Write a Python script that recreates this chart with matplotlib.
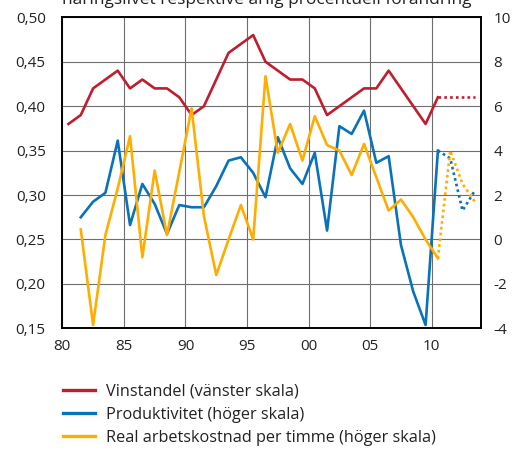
import matplotlib
matplotlib.use("Agg")
import matplotlib.pyplot as plt
import numpy as np

plt.rcParams['font.family'] = ['Open Sans', 'DejaVu Sans']
plt.rcParams['axes.unicode_minus'] = False

# years of the observations (plotted mid-year)
years = list(range(1980, 2011))
fc_years = [2010, 2011, 2012, 2013]

# Vinstandel (left axis)
vinstandel = [0.38, 0.39, 0.42, 0.43, 0.44, 0.42, 0.43, 0.42, 0.42, 0.41,
              0.39, 0.40, 0.43, 0.46, 0.47, 0.48, 0.45, 0.44, 0.43, 0.43,
              0.42, 0.39, 0.40, 0.41, 0.42, 0.42, 0.44, 0.42, 0.40, 0.38,
              0.41]
vinstandel_fc = [0.41, 0.41, 0.41, 0.41]

# Produktivitet (right axis), starts 1981
prod_years = list(range(1981, 2011))
produktivitet = [1.0, 1.7, 2.1, 4.45, 0.65, 2.5, 1.6, 0.25, 1.55, 1.45,
                 1.45, 2.4, 3.55, 3.7, 3.0, 1.9, 4.6, 3.2, 2.5, 3.9,
                 0.4, 5.1, 4.75, 5.8, 3.45, 3.75, -0.25, -2.35, -3.85, 4.0]
produktivitet_fc = [4.0, 3.65, 1.3, 2.2]

# Real arbetskostnad per timme (right axis), starts 1981
arbkost = [0.45, -3.85, 0.2, 2.3, 4.65, -0.8, 3.1, 0.2, 3.05, 5.9,
           1.05, -1.6, 0.0, 1.55, 0.0, 7.35, 3.9, 5.2, 3.55, 5.55,
           4.25, 4.0, 2.9, 4.3, 2.8, 1.3, 1.8, 1.0, 0.0, -0.85]
arbkost_fc = [-0.85, 4.0, 2.5, 1.7]

red = '#BE1E2D'
blue = '#0A72BA'
orange = '#FFAD00'

fig = plt.figure(figsize=(5.28, 4.51), dpi=100)
ax = fig.add_axes([0.118, 0.272, 0.793, 0.6896])
ax2 = ax.twinx()

x = np.array(years) + 0.5
ax.plot(x, vinstandel, color=red, lw=1.9, zorder=3)
ax.plot(np.array(fc_years) + 0.5, vinstandel_fc, color=red, lw=1.9, ls=(0, (1, 1.2)))

px = np.array(prod_years) + 0.5
fx = np.array(fc_years) + 0.5
ax2.plot(px, produktivitet, color=blue, lw=1.9)
ax2.plot(px, arbkost, color=orange, lw=1.9)
ax2.plot(fx, produktivitet_fc, color=blue, lw=1.9, ls=(0, (1, 1.2)))
ax2.plot(fx, arbkost_fc, color=orange, lw=1.9, ls=(0, (1, 1.2)))

ax.set_xlim(1980, 2014)
ax.set_ylim(0.15, 0.50)
ax2.set_ylim(-4, 10)

ax.set_xticks(range(1980, 2011, 5))
ax.set_xticklabels(['80', '85', '90', '95', '00', '05', '10'])
yt = np.arange(0.15, 0.501, 0.05)
ax.set_yticks(yt)
ax.set_yticklabels([f'{v:.2f}'.replace('.', ',') for v in yt])
ax2.set_yticks(range(-4, 11, 2))

ax.grid(True, color='#6e6e6e', lw=0.8)
ax.set_axisbelow(True)
for a in (ax, ax2):
    a.tick_params(length=0, labelsize=11, colors='#222222')
    for s in a.spines.values():
        s.set_linewidth(1.2)
        s.set_color('black')
ax.tick_params(axis='y', pad=12)
ax2.tick_params(axis='y', pad=9)
ax.tick_params(axis='x', pad=8)

fig.text(0.505, 0.991, 'näringslivet respektive årlig procentuell förändring',
         ha='center', va='baseline', fontsize=12.5, color='#222222')

handles = [plt.Line2D([], [], color=c, lw=2.4) for c in (red, blue, orange)]
labels = ['Vinstandel (vänster skala)', 'Produktivitet (höger skala)',
          'Real arbetskostnad per timme (höger skala)']
fig.legend(handles, labels, loc='upper left', bbox_to_anchor=(0.119, 0.1495),
           frameon=False, fontsize=11.7, handlelength=1.97, handletextpad=0.68,
           labelspacing=0.44, borderpad=0, borderaxespad=0, labelcolor='#222222')

fig.savefig('out.png', dpi=100)
